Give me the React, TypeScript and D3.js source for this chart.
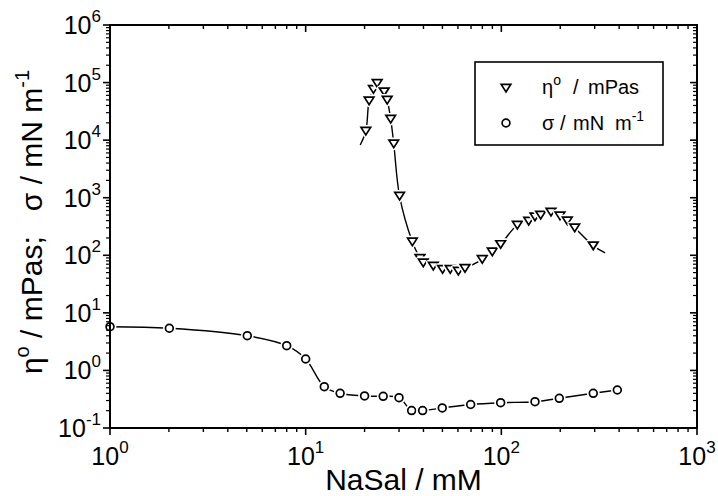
import React from "react";
import * as d3 from "d3";

// ---- data ----
const etaX = [20.3, 21.1, 22.2, 23.2, 25.2, 26.1, 27.2, 28.2, 30.2, 35.1, 38.4, 39.9, 44.9, 50.1, 54.8, 60.3, 65.2, 79.9, 89.9, 99.2, 120.7, 138, 148.6, 158.9, 179.4, 199.4, 217.3, 237.2, 295];
const etaY = [14400, 48400, 76400, 97200, 69500, 49800, 23300, 8670, 1070, 172, 88.7, 74.3, 65.2, 57.1, 57.1, 53.3, 59.4, 85.2, 115, 155, 336, 394, 468, 501, 565, 487, 399, 301, 147];
const etaCurveStart = [19.0, 8240];
const etaCurveEnd = [339, 110];

const sigmaX = [1, 2.01, 5.03, 8.0, 10.0, 12.45, 15.0, 20.0, 24.9, 30.0, 34.8, 39.6, 49.9, 69.7, 99.2, 148.6, 197.8, 295, 391.6];
const sigmaY = [5.75, 5.40, 4.01, 2.69, 1.58, 0.522, 0.401, 0.360, 0.355, 0.336, 0.201, 0.201, 0.223, 0.256, 0.275, 0.286, 0.328, 0.401, 0.457];

const xTickExps = [0, 1, 2, 3];
const yTickExps = [-1, 0, 1, 2, 3, 4, 5, 6];

const xTitle = "NaSal / mM";
const legendEta = ["η", "o", "/", "mPas"];
const legendSigma = ["σ", "/", "mN", "m", "-1"];

// ---- layout ----
const W = 718, H = 496;
const X0 = 110, X1 = 697, Y0 = 25, Y1 = 428;
const FONT = "'Liberation Sans', Arial, Helvetica, sans-serif";

const x = d3.scaleLog().domain([1, 1000]).range([X0, X1]);
const y = d3.scaleLog().domain([0.1, 1e6]).range([Y1, Y0]);

const triPath = "M-4.8,-3.6 L4.8,-3.6 L0,3.9 Z";

function minorTicks(lo: number, hi: number) {
  const out: number[] = [];
  for (let e = lo; e < hi; e++) {
    for (let m = 2; m <= 9; m++) out.push(m * Math.pow(10, e));
  }
  return out;
}

export default function App() {
  const line = d3
    .line<[number, number]>()
    .x((d) => x(d[0]))
    .y((d) => y(d[1]))
    .curve(d3.curveCatmullRom.alpha(0.5));

  const etaPts: [number, number][] = [
    [etaCurveStart[0], etaCurveStart[1]],
    ...etaX.map((v, i) => [v, etaY[i]] as [number, number]),
    [etaCurveEnd[0], etaCurveEnd[1]],
  ];
  const sigmaPts: [number, number][] = sigmaX.map((v, i) => [v, sigmaY[i]]);

  const xMinor = minorTicks(0, 3);
  const yMinor = minorTicks(-1, 6);

  return (
    <div style={{ position: "absolute", left: 0, top: 0 }}>
      <svg width={W} height={H} style={{ display: "block", background: "#fff" }} fontFamily={FONT}>
        <rect x={0} y={0} width={W} height={H} fill="#fff" />
        {/* curves */}
        <path d={line(etaPts) || ""} fill="none" stroke="#000" strokeWidth={1.4} />
        <path d={line(sigmaPts) || ""} fill="none" stroke="#000" strokeWidth={1.4} />

        {/* markers */}
        {etaX.map((v, i) => (
          <g key={"e" + i} transform={`translate(${x(v)},${y(etaY[i])})`}>
            <path d={triPath} fill="#fff" stroke="#fff" strokeWidth={5} strokeLinejoin="round" />
            <path d={triPath} fill="#fff" stroke="#000" strokeWidth={1.7} strokeLinejoin="miter" />
          </g>
        ))}
        {sigmaX.map((v, i) => (
          <g key={"s" + i} transform={`translate(${x(v)},${y(sigmaY[i])})`}>
            <circle r={3.9} fill="#fff" stroke="#fff" strokeWidth={5} />
            <circle r={3.9} fill="#fff" stroke="#000" strokeWidth={1.7} />
          </g>
        ))}

        {/* frame */}
        <rect x={X0} y={Y0} width={X1 - X0} height={Y1 - Y0} fill="none" stroke="#000" strokeWidth={2} />

        {/* x ticks: bottom outward, top inward */}
        {xTickExps.map((e) => {
          const px = x(Math.pow(10, e));
          return (
            <g key={"xt" + e}>
              <line x1={px} x2={px} y1={Y1} y2={Y1 + 7} stroke="#000" strokeWidth={1.6} />
              <line x1={px} x2={px} y1={Y0} y2={Y0 + 7} stroke="#000" strokeWidth={1.6} />
              <text x={px} y={Y1 + 37} textAnchor="middle" fontSize={25} fill="#000">
                10<tspan fontSize={17} dy={-12}>{e}</tspan>
              </text>
            </g>
          );
        })}
        {xMinor.map((v, i) => {
          const px = x(v);
          return (
            <g key={"xm" + i}>
              <line x1={px} x2={px} y1={Y1} y2={Y1 + 4} stroke="#000" strokeWidth={1.4} />
              <line x1={px} x2={px} y1={Y0} y2={Y0 + 4} stroke="#000" strokeWidth={1.4} />
            </g>
          );
        })}

        {/* y ticks: left outward, right inward */}
        {yTickExps.map((e) => {
          const py = y(Math.pow(10, e));
          return (
            <g key={"yt" + e}>
              <line x1={X0 - 7} x2={X0} y1={py} y2={py} stroke="#000" strokeWidth={1.6} />
              <line x1={X1 - 7} x2={X1} y1={py} y2={py} stroke="#000" strokeWidth={1.6} />
              <text x={X0 - 9} y={py + 9} textAnchor="end" fontSize={25} fill="#000">
                10<tspan fontSize={17} dy={-12}>{e}</tspan>
              </text>
            </g>
          );
        })}
        {yMinor.map((v, i) => {
          const py = y(v);
          return (
            <g key={"ym" + i}>
              <line x1={X0 - 4} x2={X0} y1={py} y2={py} stroke="#000" strokeWidth={1.2} />
              <line x1={X1 - 4} x2={X1} y1={py} y2={py} stroke="#000" strokeWidth={1.2} />
            </g>
          );
        })}

        {/* axis titles */}
        <text x={(X0 + X1) / 2} y={490} textAnchor="middle" fontSize={30} fill="#000">
          {xTitle}
        </text>
        <text
          transform={`translate(42,222) rotate(-90)`}
          textAnchor="middle"
          fontSize={30}
          fill="#000"
          style={{ whiteSpace: "pre" }}
        >
          η<tspan fontSize={20} dy={-13}>o</tspan>
          <tspan dy={13}>{" / mPas;   σ / mN m"}</tspan>
          <tspan fontSize={20} dy={-13}>-1</tspan>
        </text>

        {/* legend */}
        <rect x={475} y={62} width={188} height={83} fill="#fff" stroke="#000" strokeWidth={1.6} />
        <g transform="translate(506,88)">
          <path d={triPath} fill="#fff" stroke="#000" strokeWidth={1.7} />
        </g>
        <g transform="translate(506,123)">
          <circle r={3.9} fill="#fff" stroke="#000" strokeWidth={1.7} />
        </g>
        <text y={94} fontSize={20} fill="#000">
          <tspan x={542}>{legendEta[0]}</tspan>
          <tspan fontSize={14} dy={-9}>{legendEta[1]}</tspan>
          <tspan x={573} dy={9}>{legendEta[2]}</tspan>
          <tspan x={588}>{legendEta[3]}</tspan>
        </text>
        <text y={130} fontSize={20} fill="#000">
          <tspan x={542}>{legendSigma[0]}</tspan>
          <tspan x={560}>{legendSigma[1]}</tspan>
          <tspan x={573}>{legendSigma[2]}</tspan>
          <tspan x={615}>{legendSigma[3]}</tspan>
          <tspan fontSize={14} dy={-9}>{legendSigma[4]}</tspan>
        </text>
      </svg>
    </div>
  );
}
